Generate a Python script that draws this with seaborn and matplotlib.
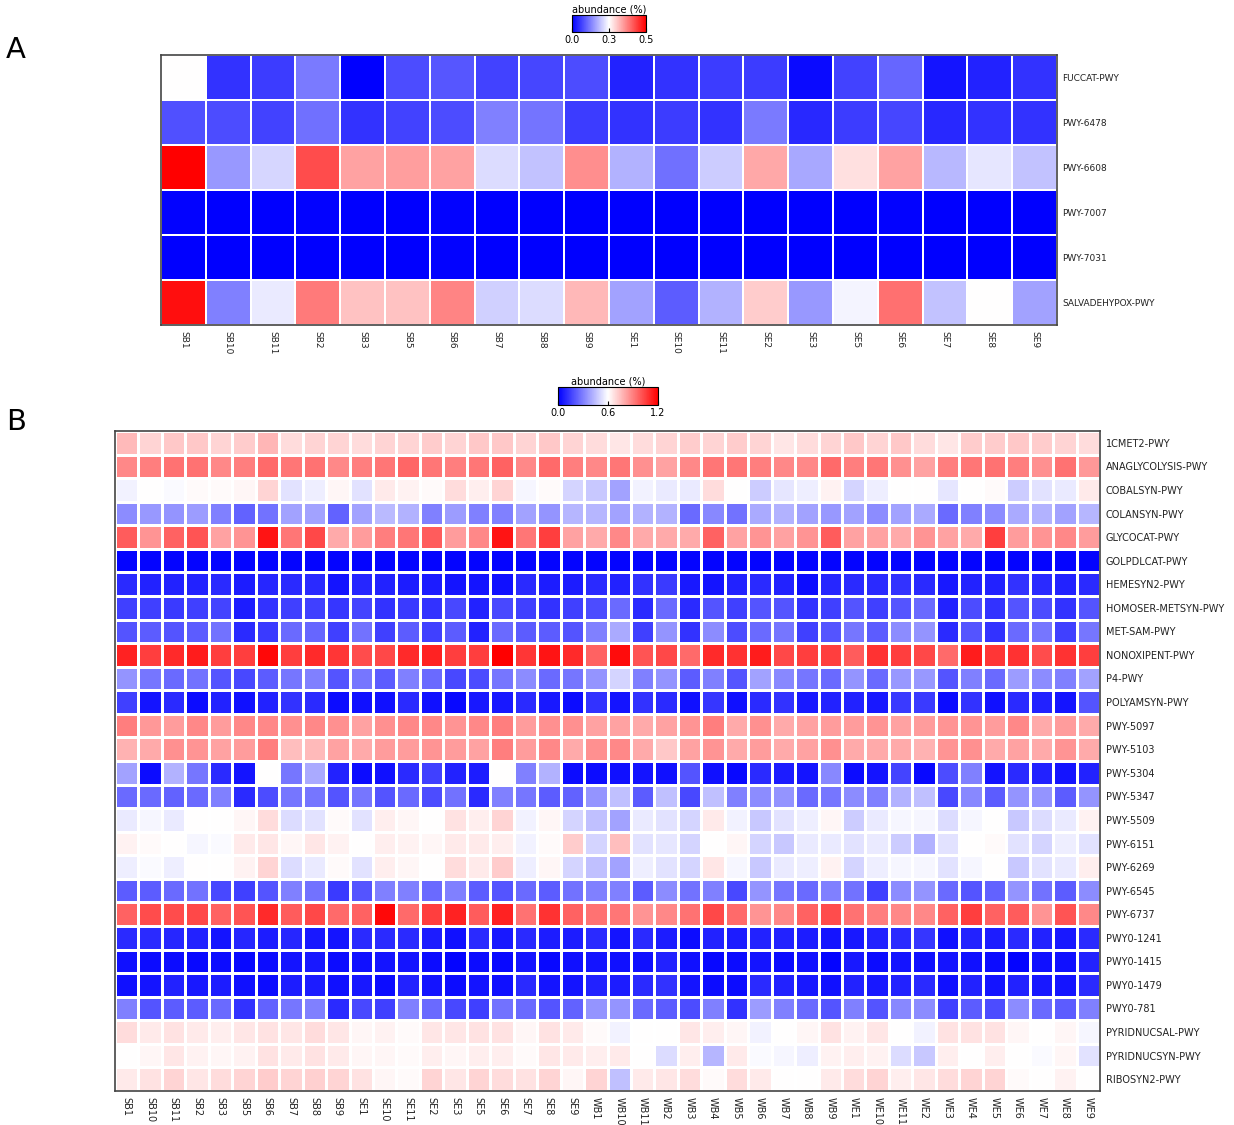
# -*- coding: utf-8 -*-
"""
Pathway abundance heatmaps, panel A (selected pathways) and B (core pathways)
"""
import matplotlib
matplotlib.use('Agg')
from matplotlib import pyplot as plt
import numpy as np
import pandas as pd
import seaborn as sns

# ---- panel A data (abundance, %) ----
samples_a = ['SB1', 'SB10', 'SB11', 'SB2', 'SB3', 'SB5', 'SB6', 'SB7', 'SB8', 'SB9',
             'SE1', 'SE10', 'SE11', 'SE2', 'SE3', 'SE5', 'SE6', 'SE7', 'SE8', 'SE9']
pathways_a = ['FUCCAT-PWY', 'PWY-6478', 'PWY-6608', 'PWY-7007', 'PWY-7031', 'SALVADEHYPOX-PWY']

fuccat   = [0.25, 0.05, 0.06, 0.12, 0.0, 0.075, 0.085, 0.065, 0.07, 0.075,
            0.035, 0.05, 0.06, 0.06, 0.01, 0.065, 0.10, 0.02, 0.035, 0.05]
pwy6478  = [0.08, 0.075, 0.065, 0.11, 0.05, 0.065, 0.075, 0.125, 0.115, 0.06,
            0.05, 0.06, 0.05, 0.12, 0.04, 0.06, 0.07, 0.04, 0.05, 0.05]
pwy6608  = [0.50, 0.15, 0.21, 0.425, 0.34, 0.345, 0.34, 0.215, 0.19, 0.36,
            0.175, 0.11, 0.20, 0.335, 0.165, 0.28, 0.34, 0.18, 0.225, 0.19]
pwy7007  = [0.002, 0.001, 0.001, 0.002, 0.001, 0.001, 0.002, 0.001, 0.001, 0.001,
            0.001, 0.001, 0.001, 0.001, 0.001, 0.001, 0.002, 0.001, 0.001, 0.001]
pwy7031  = [0.001, 0.001, 0.001, 0.001, 0.001, 0.001, 0.002, 0.001, 0.001, 0.001,
            0.001, 0.001, 0.001, 0.001, 0.001, 0.001, 0.001, 0.001, 0.001, 0.001]
salvade  = [0.485, 0.125, 0.23, 0.38, 0.31, 0.31, 0.37, 0.205, 0.215, 0.32,
            0.16, 0.09, 0.175, 0.30, 0.15, 0.24, 0.39, 0.19, 0.25, 0.16]

# ---- panel B data (abundance, %) ----
samples_b = ['SB1', 'SB10', 'SB11', 'SB2', 'SB3', 'SB5', 'SB6', 'SB7', 'SB8', 'SB9',
             'SE1', 'SE10', 'SE11', 'SE2', 'SE3', 'SE5', 'SE6', 'SE7', 'SE8', 'SE9',
             'WB1', 'WB10', 'WB11', 'WB2', 'WB3', 'WB4', 'WB5', 'WB6', 'WB7', 'WB8', 'WB9',
             'WE1', 'WE10', 'WE11', 'WE2', 'WE3', 'WE4', 'WE5', 'WE6', 'WE7', 'WE8', 'WE9']
pathways_b = ['1CMET2-PWY', 'ANAGLYCOLYSIS-PWY', 'COBALSYN-PWY', 'COLANSYN-PWY',
              'GLYCOCAT-PWY', 'GOLPDLCAT-PWY', 'HEMESYN2-PWY', 'HOMOSER-METSYN-PWY',
              'MET-SAM-PWY', 'NONOXIPENT-PWY', 'P4-PWY', 'POLYAMSYN-PWY', 'PWY-5097',
              'PWY-5103', 'PWY-5304', 'PWY-5347', 'PWY-5509', 'PWY-6151', 'PWY-6269',
              'PWY-6545', 'PWY-6737', 'PWY0-1241', 'PWY0-1415', 'PWY0-1479', 'PWY0-781',
              'PYRIDNUCSAL-PWY', 'PYRIDNUCSYN-PWY', 'RIBOSYN2-PWY']

b_1cmet2 = [0.76, 0.70, 0.73, 0.73, 0.70, 0.72, 0.77, 0.68, 0.70, 0.70, 0.68, 0.70, 0.70, 0.72,
            0.70, 0.73, 0.73, 0.70, 0.73, 0.70, 0.68, 0.66, 0.68, 0.70, 0.72, 0.70, 0.72, 0.70,
            0.66, 0.68, 0.70, 0.73, 0.70, 0.73, 0.68, 0.66, 0.72, 0.72, 0.73, 0.72, 0.70, 0.68]
b_anagly = [0.88, 0.90, 0.93, 0.93, 0.88, 0.90, 0.95, 0.92, 0.93, 0.88, 0.90, 0.92, 0.96, 0.92,
            0.90, 0.92, 0.97, 0.88, 0.95, 0.90, 0.88, 0.92, 0.86, 0.82, 0.88, 0.92, 0.92, 0.90,
            0.88, 0.88, 0.95, 0.90, 0.92, 0.86, 0.82, 0.90, 0.92, 0.93, 0.90, 0.86, 0.93, 0.84]
b_cobal  = [0.57, 0.60, 0.59, 0.61, 0.61, 0.62, 0.70, 0.53, 0.56, 0.62, 0.53, 0.65, 0.63, 0.61,
            0.68, 0.64, 0.70, 0.58, 0.61, 0.50, 0.47, 0.38, 0.57, 0.55, 0.55, 0.68, 0.60, 0.48,
            0.54, 0.56, 0.63, 0.50, 0.56, 0.60, 0.60, 0.54, 0.60, 0.61, 0.48, 0.53, 0.55, 0.65]
b_colan  = [0.33, 0.36, 0.35, 0.37, 0.30, 0.23, 0.27, 0.38, 0.38, 0.23, 0.38, 0.44, 0.42, 0.30,
            0.37, 0.30, 0.30, 0.38, 0.35, 0.43, 0.43, 0.38, 0.42, 0.42, 0.25, 0.32, 0.27, 0.40,
            0.42, 0.38, 0.36, 0.38, 0.33, 0.38, 0.40, 0.25, 0.30, 0.33, 0.40, 0.42, 0.38, 0.43]
b_glyco  = [0.98, 0.85, 0.97, 1.00, 0.82, 0.85, 1.15, 0.92, 1.03, 0.80, 0.83, 0.90, 0.92, 0.98,
            0.83, 0.88, 1.15, 0.92, 1.05, 0.82, 0.80, 0.88, 0.80, 0.80, 0.80, 0.97, 0.82, 0.85,
            0.82, 0.85, 0.98, 0.82, 0.82, 0.80, 0.85, 0.82, 0.80, 1.05, 0.83, 0.85, 0.88, 0.83]
b_golpd  = [0.01, 0.01, 0.01, 0.01, 0.01, 0.01, 0.01, 0.01, 0.01, 0.01, 0.01, 0.01, 0.01, 0.01,
            0.01, 0.01, 0.01, 0.01, 0.01, 0.01, 0.01, 0.01, 0.01, 0.01, 0.01, 0.01, 0.01, 0.01,
            0.01, 0.01, 0.01, 0.01, 0.01, 0.01, 0.01, 0.01, 0.01, 0.01, 0.01, 0.01, 0.01, 0.01]
b_heme   = [0.10, 0.08, 0.08, 0.08, 0.10, 0.07, 0.09, 0.10, 0.10, 0.05, 0.09, 0.08, 0.07, 0.07,
            0.05, 0.05, 0.04, 0.10, 0.07, 0.07, 0.10, 0.08, 0.12, 0.14, 0.06, 0.05, 0.08, 0.10,
            0.08, 0.03, 0.09, 0.10, 0.10, 0.12, 0.10, 0.06, 0.08, 0.08, 0.12, 0.10, 0.08, 0.10]
b_homos  = [0.15, 0.15, 0.14, 0.15, 0.16, 0.07, 0.12, 0.15, 0.15, 0.13, 0.16, 0.12, 0.14, 0.12,
            0.17, 0.08, 0.17, 0.15, 0.12, 0.15, 0.18, 0.25, 0.10, 0.25, 0.10, 0.20, 0.15, 0.20,
            0.20, 0.12, 0.15, 0.20, 0.15, 0.20, 0.25, 0.08, 0.18, 0.12, 0.20, 0.18, 0.12, 0.20]
b_metsam = [0.20, 0.22, 0.20, 0.22, 0.27, 0.10, 0.14, 0.25, 0.24, 0.15, 0.27, 0.15, 0.22, 0.15,
            0.22, 0.08, 0.25, 0.22, 0.22, 0.20, 0.30, 0.40, 0.15, 0.35, 0.12, 0.33, 0.18, 0.25,
            0.28, 0.15, 0.20, 0.28, 0.22, 0.33, 0.35, 0.10, 0.20, 0.12, 0.25, 0.28, 0.15, 0.28]
b_nonox  = [1.12, 1.05, 1.10, 1.13, 1.05, 1.05, 1.18, 1.05, 1.10, 1.07, 1.02, 1.03, 1.10, 1.12,
            1.05, 1.05, 1.20, 1.07, 1.15, 1.10, 0.97, 1.17, 1.00, 1.03, 0.95, 1.10, 1.08, 1.13,
            1.03, 1.05, 1.05, 0.98, 1.08, 1.05, 1.03, 0.95, 1.13, 1.07, 1.08, 1.02, 1.08, 1.05]
b_p4     = [0.35, 0.28, 0.25, 0.27, 0.20, 0.17, 0.22, 0.28, 0.30, 0.20, 0.28, 0.22, 0.30, 0.25,
            0.17, 0.18, 0.28, 0.33, 0.25, 0.28, 0.35, 0.50, 0.30, 0.35, 0.22, 0.30, 0.20, 0.38,
            0.32, 0.28, 0.25, 0.35, 0.25, 0.36, 0.36, 0.20, 0.30, 0.25, 0.37, 0.33, 0.30, 0.38]
b_polya  = [0.15, 0.05, 0.10, 0.03, 0.08, 0.04, 0.08, 0.12, 0.10, 0.03, 0.04, 0.04, 0.10, 0.04,
            0.02, 0.06, 0.06, 0.10, 0.06, 0.03, 0.12, 0.05, 0.12, 0.10, 0.04, 0.13, 0.04, 0.10,
            0.12, 0.06, 0.08, 0.08, 0.06, 0.14, 0.14, 0.03, 0.12, 0.04, 0.10, 0.08, 0.05, 0.20]
b_5097   = [0.90, 0.84, 0.83, 0.88, 0.83, 0.88, 0.88, 0.86, 0.88, 0.86, 0.82, 0.86, 0.88, 0.88,
            0.85, 0.88, 0.90, 0.83, 0.86, 0.86, 0.82, 0.82, 0.80, 0.82, 0.85, 0.90, 0.80, 0.86,
            0.80, 0.82, 0.83, 0.83, 0.85, 0.82, 0.83, 0.85, 0.85, 0.83, 0.88, 0.80, 0.83, 0.80]
b_5103   = [0.78, 0.80, 0.86, 0.85, 0.82, 0.83, 0.90, 0.75, 0.76, 0.82, 0.80, 0.83, 0.83, 0.85,
            0.83, 0.82, 0.90, 0.83, 0.88, 0.80, 0.86, 0.88, 0.80, 0.73, 0.82, 0.85, 0.80, 0.83,
            0.80, 0.82, 0.86, 0.80, 0.80, 0.80, 0.78, 0.85, 0.86, 0.80, 0.82, 0.80, 0.85, 0.80]
b_5304   = [0.38, 0.03, 0.42, 0.28, 0.10, 0.05, 0.60, 0.28, 0.40, 0.08, 0.03, 0.04, 0.10, 0.15,
            0.08, 0.07, 0.60, 0.30, 0.42, 0.03, 0.03, 0.04, 0.05, 0.04, 0.20, 0.04, 0.02, 0.10,
            0.07, 0.05, 0.32, 0.03, 0.05, 0.16, 0.02, 0.18, 0.30, 0.05, 0.10, 0.08, 0.05, 0.08]
b_5347   = [0.25, 0.25, 0.23, 0.25, 0.30, 0.10, 0.18, 0.28, 0.28, 0.20, 0.28, 0.20, 0.25, 0.18,
            0.27, 0.10, 0.30, 0.28, 0.22, 0.23, 0.35, 0.45, 0.22, 0.45, 0.17, 0.45, 0.30, 0.33,
            0.35, 0.25, 0.28, 0.33, 0.30, 0.42, 0.45, 0.17, 0.32, 0.22, 0.35, 0.35, 0.22, 0.35]
b_5509   = [0.55, 0.58, 0.55, 0.60, 0.60, 0.62, 0.68, 0.52, 0.53, 0.61, 0.53, 0.64, 0.62, 0.60,
            0.67, 0.64, 0.70, 0.57, 0.62, 0.50, 0.45, 0.38, 0.55, 0.53, 0.50, 0.65, 0.57, 0.47,
            0.53, 0.56, 0.62, 0.48, 0.55, 0.58, 0.58, 0.52, 0.58, 0.60, 0.47, 0.52, 0.55, 0.63]
b_6151   = [0.63, 0.61, 0.60, 0.58, 0.59, 0.65, 0.66, 0.62, 0.66, 0.63, 0.60, 0.64, 0.63, 0.62,
            0.65, 0.65, 0.64, 0.57, 0.61, 0.72, 0.50, 0.75, 0.53, 0.54, 0.50, 0.60, 0.62, 0.50,
            0.47, 0.55, 0.55, 0.53, 0.55, 0.48, 0.42, 0.53, 0.60, 0.61, 0.53, 0.50, 0.56, 0.53]
b_6269   = [0.56, 0.59, 0.56, 0.60, 0.60, 0.63, 0.70, 0.52, 0.55, 0.61, 0.53, 0.64, 0.62, 0.60,
            0.68, 0.65, 0.72, 0.56, 0.62, 0.50, 0.45, 0.38, 0.56, 0.53, 0.50, 0.66, 0.58, 0.47,
            0.55, 0.56, 0.63, 0.50, 0.56, 0.58, 0.58, 0.53, 0.58, 0.60, 0.47, 0.53, 0.55, 0.64]
b_6545   = [0.22, 0.22, 0.25, 0.27, 0.17, 0.15, 0.20, 0.30, 0.27, 0.14, 0.20, 0.30, 0.30, 0.25,
            0.30, 0.22, 0.20, 0.25, 0.22, 0.27, 0.30, 0.30, 0.22, 0.33, 0.27, 0.30, 0.17, 0.35,
            0.28, 0.25, 0.30, 0.27, 0.15, 0.33, 0.35, 0.25, 0.20, 0.23, 0.35, 0.27, 0.22, 0.33]
b_6737   = [0.97, 1.02, 1.02, 1.03, 0.97, 1.00, 1.10, 0.98, 1.03, 0.95, 0.97, 1.18, 0.95, 1.05,
            1.12, 0.98, 1.12, 0.93, 1.08, 0.97, 0.93, 0.92, 0.85, 0.88, 0.93, 1.03, 0.95, 0.85,
            0.88, 0.97, 1.02, 0.93, 0.90, 0.88, 0.88, 0.97, 1.05, 0.97, 0.98, 0.85, 1.00, 0.88]
b_1241   = [0.10, 0.10, 0.09, 0.08, 0.05, 0.09, 0.07, 0.09, 0.06, 0.05, 0.10, 0.10, 0.10, 0.07,
            0.04, 0.10, 0.06, 0.10, 0.07, 0.07, 0.10, 0.05, 0.10, 0.07, 0.03, 0.08, 0.07, 0.08,
            0.08, 0.07, 0.05, 0.06, 0.08, 0.10, 0.13, 0.04, 0.08, 0.07, 0.10, 0.08, 0.06, 0.10]
b_1415   = [0.04, 0.03, 0.03, 0.02, 0.03, 0.02, 0.03, 0.05, 0.06, 0.03, 0.04, 0.05, 0.05, 0.03,
            0.01, 0.03, 0.02, 0.05, 0.02, 0.04, 0.05, 0.04, 0.04, 0.08, 0.04, 0.02, 0.03, 0.05,
            0.03, 0.04, 0.01, 0.06, 0.03, 0.05, 0.04, 0.05, 0.04, 0.03, 0.01, 0.04, 0.04, 0.08]
b_1479   = [0.04, 0.05, 0.08, 0.06, 0.07, 0.04, 0.03, 0.07, 0.07, 0.04, 0.06, 0.03, 0.08, 0.05,
            0.03, 0.05, 0.04, 0.10, 0.05, 0.05, 0.08, 0.07, 0.10, 0.12, 0.05, 0.03, 0.03, 0.10,
            0.08, 0.06, 0.04, 0.08, 0.06, 0.08, 0.10, 0.04, 0.08, 0.05, 0.08, 0.06, 0.05, 0.10]
b_781    = [0.30, 0.20, 0.22, 0.22, 0.25, 0.12, 0.23, 0.28, 0.30, 0.10, 0.17, 0.15, 0.30, 0.25,
            0.17, 0.15, 0.27, 0.25, 0.20, 0.23, 0.35, 0.35, 0.25, 0.22, 0.18, 0.30, 0.12, 0.37,
            0.30, 0.25, 0.20, 0.30, 0.20, 0.32, 0.33, 0.15, 0.22, 0.18, 0.33, 0.25, 0.22, 0.30]
b_pysal  = [0.68, 0.65, 0.67, 0.65, 0.64, 0.66, 0.67, 0.66, 0.68, 0.66, 0.62, 0.63, 0.61, 0.66,
            0.66, 0.67, 0.67, 0.62, 0.67, 0.65, 0.61, 0.57, 0.60, 0.60, 0.66, 0.64, 0.62, 0.57,
            0.60, 0.62, 0.67, 0.63, 0.66, 0.60, 0.57, 0.67, 0.67, 0.67, 0.62, 0.60, 0.62, 0.58]
b_pysyn  = [0.60, 0.62, 0.66, 0.63, 0.62, 0.63, 0.67, 0.65, 0.67, 0.65, 0.62, 0.62, 0.61, 0.64,
            0.62, 0.64, 0.64, 0.61, 0.66, 0.65, 0.64, 0.65, 0.60, 0.52, 0.64, 0.43, 0.65, 0.59,
            0.58, 0.56, 0.63, 0.64, 0.63, 0.52, 0.47, 0.64, 0.60, 0.64, 0.60, 0.59, 0.62, 0.53]
b_ribo   = [0.65, 0.67, 0.70, 0.66, 0.68, 0.70, 0.72, 0.70, 0.71, 0.70, 0.67, 0.62, 0.61, 0.70,
            0.66, 0.70, 0.68, 0.67, 0.70, 0.62, 0.70, 0.45, 0.65, 0.66, 0.68, 0.61, 0.68, 0.65,
            0.60, 0.60, 0.65, 0.68, 0.70, 0.64, 0.66, 0.68, 0.70, 0.70, 0.61, 0.60, 0.63, 0.60]

df_a = pd.DataFrame([fuccat, pwy6478, pwy6608, pwy7007, pwy7031, salvade],
                    index=pathways_a, columns=samples_a)
df_b = pd.DataFrame([b_1cmet2, b_anagly, b_cobal, b_colan, b_glyco, b_golpd, b_heme,
                     b_homos, b_metsam, b_nonox, b_p4, b_polya, b_5097, b_5103, b_5304,
                     b_5347, b_5509, b_6151, b_6269, b_6545, b_6737, b_1241, b_1415,
                     b_1479, b_781, b_pysal, b_pysyn, b_ribo],
                    index=pathways_b, columns=samples_b)


def draw_panel(fig, df, ax_rect, cax_rect, vmax, tick_labels, lw, fsize):
    ax = fig.add_axes(ax_rect)
    cax = fig.add_axes(cax_rect)
    sns.heatmap(df, ax=ax, cbar_ax=cax, cmap='bwr', vmin=0, vmax=vmax,
                linewidths=lw, linecolor='white',
                cbar_kws={'orientation': 'horizontal',
                          'ticks': [0, vmax / 2, vmax]})
    # frame around the heatmap
    for sp in ax.spines.values():
        sp.set_visible(True)
        sp.set_color('#444444')
        sp.set_linewidth(1.2)
    ax.yaxis.tick_right()
    ax.set_xlabel('')
    ax.set_ylabel('')
    ax.tick_params(axis='both', length=0, pad=4, labelsize=fsize, colors='#222222')
    ax.set_xticklabels(df.columns, rotation=270)
    ax.set_yticklabels(df.index, rotation=0)
    # colorbar
    cax.set_xticklabels(tick_labels)
    cax.tick_params(labelsize=7, length=3, direction='in', pad=2)
    cax.set_title('abundance (%)', fontsize=7, pad=2)
    cbar = ax.collections[0].colorbar
    cbar.outline.set_visible(True)
    cbar.outline.set_edgecolor('black')
    cbar.outline.set_linewidth(0.8)
    return ax


fig = plt.figure(figsize=(12.34, 11.25), dpi=100)

draw_panel(fig, df_a, [161 / 1234, 1 - 325 / 1125, 896 / 1234, 270 / 1125],
           [572 / 1234, 1 - 32 / 1125, 74 / 1234, 17 / 1125],
           0.5, ['0.0', '0.3', '0.5'], 1.2, 6.5)
draw_panel(fig, df_b, [115 / 1234, 1 - 1091 / 1125, 985 / 1234, 660 / 1125],
           [558 / 1234, 1 - 405 / 1125, 100 / 1234, 18 / 1125],
           1.2, ['0.0', '0.6', '1.2'], 1.0, 7)

fig.text(6 / 1234, 1 - 50 / 1125, 'A', fontsize=21, va='center', ha='left')
fig.text(6 / 1234, 1 - 422 / 1125, 'B', fontsize=21, va='center', ha='left')

plt.savefig('out.png', dpi=100)
